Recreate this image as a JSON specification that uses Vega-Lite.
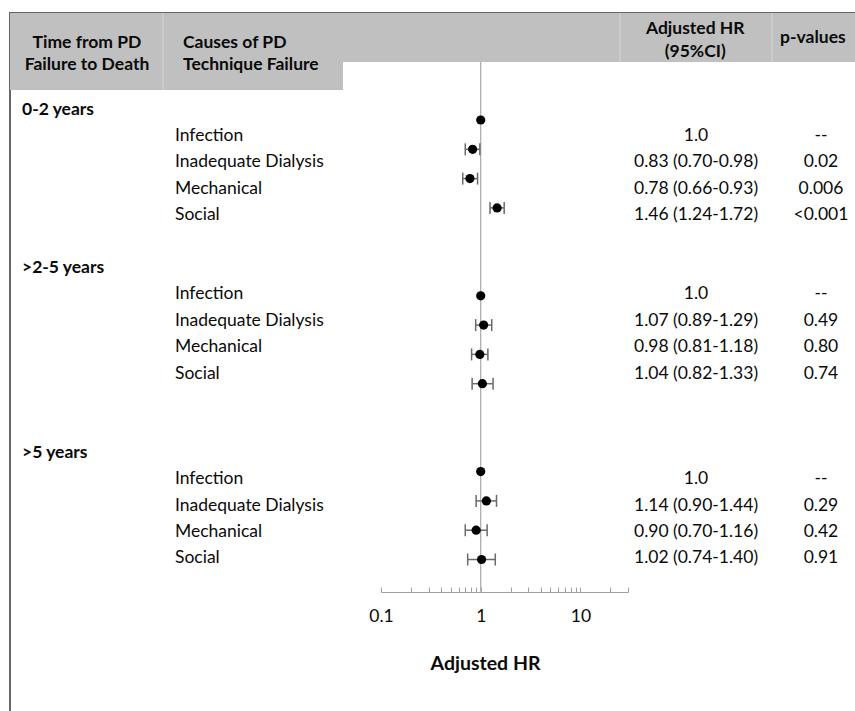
{
  "$schema": "https://vega.github.io/schema/vega-lite/v6.json",
  "width": 846,
  "height": 700,
  "padding": {"left": 10, "top": 13, "right": 0, "bottom": 0},
  "autosize": {"type": "none"},
  "background": "white",
  "config": {
    "view": {"stroke": "#666666", "strokeWidth": 2},
    "font": "Lato",
    "text": {"font": "Lato", "fontSize": 17.5, "color": "#0a0a0a"}
  },
  "datasets": {
    "groups": [
      {"group": "0-2 years", "row": 0},
      {"group": ">2-5 years", "row": 6},
      {"group": ">5 years", "row": 13}
    ],
    "rows": [
      {"group": "0-2 years", "cause": "Infection", "row": 1, "slot": 0, "hr": 1.0, "lo": null, "hi": null, "est": "1.0", "p": "--"},
      {"group": "0-2 years", "cause": "Inadequate Dialysis", "row": 2, "slot": 1, "hr": 0.83, "lo": 0.70, "hi": 0.98, "est": "0.83 (0.70-0.98)", "p": "0.02"},
      {"group": "0-2 years", "cause": "Mechanical", "row": 3, "slot": 2, "hr": 0.78, "lo": 0.66, "hi": 0.93, "est": "0.78 (0.66-0.93)", "p": "0.006"},
      {"group": "0-2 years", "cause": "Social", "row": 4, "slot": 3, "hr": 1.46, "lo": 1.24, "hi": 1.72, "est": "1.46 (1.24-1.72)", "p": "<0.001"},
      {"group": ">2-5 years", "cause": "Infection", "row": 7, "slot": 6, "hr": 1.0, "lo": null, "hi": null, "est": "1.0", "p": "--"},
      {"group": ">2-5 years", "cause": "Inadequate Dialysis", "row": 8, "slot": 7, "hr": 1.07, "lo": 0.89, "hi": 1.29, "est": "1.07 (0.89-1.29)", "p": "0.49"},
      {"group": ">2-5 years", "cause": "Mechanical", "row": 9, "slot": 8, "hr": 0.98, "lo": 0.81, "hi": 1.18, "est": "0.98 (0.81-1.18)", "p": "0.80"},
      {"group": ">2-5 years", "cause": "Social", "row": 10, "slot": 9, "hr": 1.04, "lo": 0.82, "hi": 1.33, "est": "1.04 (0.82-1.33)", "p": "0.74"},
      {"group": ">5 years", "cause": "Infection", "row": 14, "slot": 12, "hr": 1.0, "lo": null, "hi": null, "est": "1.0", "p": "--"},
      {"group": ">5 years", "cause": "Inadequate Dialysis", "row": 15, "slot": 13, "hr": 1.14, "lo": 0.90, "hi": 1.44, "est": "1.14 (0.90-1.44)", "p": "0.29"},
      {"group": ">5 years", "cause": "Mechanical", "row": 16, "slot": 14, "hr": 0.90, "lo": 0.70, "hi": 1.16, "est": "0.90 (0.70-1.16)", "p": "0.42"},
      {"group": ">5 years", "cause": "Social", "row": 17, "slot": 15, "hr": 1.02, "lo": 0.74, "hi": 1.40, "est": "1.02 (0.74-1.40)", "p": "0.91"}
    ]
  },
  "layer": [
    {
      "data": {"values": [{}]},
      "mark": {"type": "rect", "fill": "#c0c0c0"},
      "encoding": {
        "x": {"datum": 0, "type": "quantitative", "scale": {"domain": [0, 100], "nice": false, "zero": false}, "axis": null},
        "x2": {"datum": 39.36},
        "y": {"datum": -3.662, "type": "quantitative", "scale": {"domain": [-3.662, 22.853], "reverse": true, "nice": false, "zero": false}, "axis": null},
        "y2": {"datum": -0.745}
      }
    },
    {
      "data": {"values": [{}]},
      "mark": {"type": "rect", "fill": "#c0c0c0"},
      "encoding": {
        "x": {"datum": 39.36, "type": "quantitative", "scale": {"domain": [0, 100], "nice": false, "zero": false}, "axis": null},
        "x2": {"datum": 100},
        "y": {"datum": -3.662, "type": "quantitative", "scale": {"domain": [-3.662, 22.853], "reverse": true, "nice": false, "zero": false}, "axis": null},
        "y2": {"datum": -1.806}
      }
    },
    {
      "data": {"values": [{}]},
      "mark": {"type": "rule", "color": "#d6d6d6", "strokeWidth": 1},
      "encoding": {
        "x": {"datum": 18.09, "type": "quantitative", "scale": {"domain": [0, 100], "nice": false, "zero": false}, "axis": null},
        "y": {"datum": -3.662, "type": "quantitative", "scale": {"domain": [-3.662, 22.853], "reverse": true, "nice": false, "zero": false}, "axis": null},
        "y2": {"datum": -0.745}
      }
    },
    {
      "data": {"values": [{}]},
      "mark": {"type": "rule", "color": "#d6d6d6", "strokeWidth": 1},
      "encoding": {
        "x": {"datum": 72.1, "type": "quantitative", "scale": {"domain": [0, 100], "nice": false, "zero": false}, "axis": null},
        "y": {"datum": -3.662, "type": "quantitative", "scale": {"domain": [-3.662, 22.853], "reverse": true, "nice": false, "zero": false}, "axis": null},
        "y2": {"datum": -1.806}
      }
    },
    {
      "data": {"values": [{}]},
      "mark": {"type": "rule", "color": "#d6d6d6", "strokeWidth": 1},
      "encoding": {
        "x": {"datum": 90.07, "type": "quantitative", "scale": {"domain": [0, 100], "nice": false, "zero": false}, "axis": null},
        "y": {"datum": -3.662, "type": "quantitative", "scale": {"domain": [-3.662, 22.853], "reverse": true, "nice": false, "zero": false}, "axis": null},
        "y2": {"datum": -1.806}
      }
    },
    {
      "data": {"values": [{}]},
      "mark": {"type": "text", "text": ["Time from PD", "Failure to Death"], "fontWeight": "bold", "align": "center", "baseline": "middle", "lineHeight": 22},
      "encoding": {
        "x": {"datum": 9.1, "type": "quantitative", "scale": {"domain": [0, 100], "nice": false, "zero": false}, "axis": null},
        "y": {"datum": -2.525, "type": "quantitative", "scale": {"domain": [-3.662, 22.853], "reverse": true, "nice": false, "zero": false}, "axis": null}
      }
    },
    {
      "data": {"values": [{}]},
      "mark": {"type": "text", "text": ["Causes of PD", "Technique Failure"], "fontWeight": "bold", "align": "left", "baseline": "middle", "lineHeight": 22},
      "encoding": {
        "x": {"datum": 20.45, "type": "quantitative", "scale": {"domain": [0, 100], "nice": false, "zero": false}, "axis": null},
        "y": {"datum": -2.525, "type": "quantitative", "scale": {"domain": [-3.662, 22.853], "reverse": true, "nice": false, "zero": false}, "axis": null}
      }
    },
    {
      "data": {"values": [{}]},
      "mark": {"type": "text", "text": ["Adjusted HR", "(95%CI)"], "fontWeight": "bold", "align": "center", "baseline": "middle", "lineHeight": 23},
      "encoding": {
        "x": {"datum": 81.0, "type": "quantitative", "scale": {"domain": [0, 100], "nice": false, "zero": false}, "axis": null},
        "y": {"datum": -3.05, "type": "quantitative", "scale": {"domain": [-3.662, 22.853], "reverse": true, "nice": false, "zero": false}, "axis": null}
      }
    },
    {
      "data": {"values": [{}]},
      "mark": {"type": "text", "text": "p-values", "fontWeight": "bold", "align": "center", "baseline": "middle"},
      "encoding": {
        "x": {"datum": 94.9, "type": "quantitative", "scale": {"domain": [0, 100], "nice": false, "zero": false}, "axis": null},
        "y": {"datum": -2.715, "type": "quantitative", "scale": {"domain": [-3.662, 22.853], "reverse": true, "nice": false, "zero": false}, "axis": null}
      }
    },
    {
      "data": {"name": "groups"},
      "mark": {"type": "text", "fontWeight": "bold", "align": "left", "baseline": "middle"},
      "encoding": {
        "x": {"datum": 1.42, "type": "quantitative", "scale": {"domain": [0, 100], "nice": false, "zero": false}, "axis": null},
        "y": {"field": "row", "type": "quantitative", "scale": {"domain": [-3.662, 22.853], "reverse": true, "nice": false, "zero": false}, "axis": null},
        "text": {"field": "group"}
      }
    },
    {
      "data": {"name": "rows"},
      "mark": {"type": "text", "align": "left", "baseline": "middle"},
      "encoding": {
        "x": {"datum": 19.5, "type": "quantitative", "scale": {"domain": [0, 100], "nice": false, "zero": false}, "axis": null},
        "y": {"field": "row", "type": "quantitative", "scale": {"domain": [-3.662, 22.853], "reverse": true, "nice": false, "zero": false}, "axis": null},
        "text": {"field": "cause"}
      }
    },
    {
      "data": {"name": "rows"},
      "mark": {"type": "text", "align": "center", "baseline": "middle"},
      "encoding": {
        "x": {"datum": 81.09, "type": "quantitative", "scale": {"domain": [0, 100], "nice": false, "zero": false}, "axis": null},
        "y": {"field": "row", "type": "quantitative", "scale": {"domain": [-3.662, 22.853], "reverse": true, "nice": false, "zero": false}, "axis": null},
        "text": {"field": "est"}
      }
    },
    {
      "data": {"name": "rows"},
      "mark": {"type": "text", "align": "center", "baseline": "middle"},
      "encoding": {
        "x": {"datum": 95.86, "type": "quantitative", "scale": {"domain": [0, 100], "nice": false, "zero": false}, "axis": null},
        "y": {"field": "row", "type": "quantitative", "scale": {"domain": [-3.662, 22.853], "reverse": true, "nice": false, "zero": false}, "axis": null},
        "text": {"field": "p"}
      }
    },
    {
      "data": {"values": [{}]},
      "mark": {"type": "rule", "color": "#a8a8a8", "strokeWidth": 1.2},
      "encoding": {
        "x": {"datum": 1, "type": "quantitative", "scale": {"type": "log", "domain": [0.1, 30], "range": [371, 618], "nice": false}, "axis": null},
        "y": {"datum": -1.98, "type": "quantitative", "scale": {"domain": [-3.652, 20.239], "reverse": true, "nice": false, "zero": false}, "axis": null},
        "y2": {"datum": 16.1}
      }
    },
    {
      "data": {"name": "rows"},
      "transform": [{"filter": "datum.lo != null"}],
      "mark": {"type": "rule", "color": "#6a6a6a", "strokeWidth": 1.5},
      "encoding": {
        "x": {"field": "lo", "type": "quantitative", "scale": {"type": "log", "domain": [0.1, 30], "range": [371, 618], "nice": false}, "axis": null},
        "x2": {"field": "hi"},
        "y": {"field": "slot", "type": "quantitative", "scale": {"domain": [-3.652, 20.239], "reverse": true, "nice": false, "zero": false}, "axis": null}
      }
    },
    {
      "data": {"name": "rows"},
      "transform": [{"filter": "datum.lo != null"}],
      "mark": {"type": "tick", "orient": "vertical", "color": "#6a6a6a", "size": 12, "thickness": 1.5, "opacity": 1},
      "encoding": {
        "x": {"field": "lo", "type": "quantitative", "scale": {"type": "log", "domain": [0.1, 30], "range": [371, 618], "nice": false}, "axis": null},
        "y": {"field": "slot", "type": "quantitative", "scale": {"domain": [-3.652, 20.239], "reverse": true, "nice": false, "zero": false}, "axis": null}
      }
    },
    {
      "data": {"name": "rows"},
      "transform": [{"filter": "datum.lo != null"}],
      "mark": {"type": "tick", "orient": "vertical", "color": "#6a6a6a", "size": 12, "thickness": 1.5, "opacity": 1},
      "encoding": {
        "x": {"field": "hi", "type": "quantitative", "scale": {"type": "log", "domain": [0.1, 30], "range": [371, 618], "nice": false}, "axis": null},
        "y": {"field": "slot", "type": "quantitative", "scale": {"domain": [-3.652, 20.239], "reverse": true, "nice": false, "zero": false}, "axis": null}
      }
    },
    {
      "data": {"name": "rows"},
      "mark": {"type": "circle", "color": "black", "size": 85, "opacity": 1},
      "encoding": {
        "x": {
          "field": "hr", "type": "quantitative",
          "scale": {"type": "log", "domain": [0.1, 30], "range": [371, 618], "nice": false},
          "axis": {
            "title": "Adjusted HR",
            "values": [0.1, 0.2, 0.3, 0.4, 0.5, 0.6, 0.7, 0.8, 0.9, 1, 2, 3, 4, 5, 6, 7, 8, 9, 10, 20, 30],
            "labelExpr": "datum.value == 0.1 ? '0.1' : (datum.value == 1 ? '1' : (datum.value == 10 ? '10' : ''))",
            "offset": -121,
            "grid": false,
            "domainColor": "#a0a0a0",
            "domainWidth": 1.2,
            "tickColor": "#a0a0a0",
            "tickSize": -5,
            "tickWidth": 1,
            "labelPadding": 20,
            "labelFont": "Lato",
            "labelFontSize": 17.5,
            "labelColor": "#0a0a0a",
            "labelFlush": false,
            "labelOverlap": false,
            "titleFont": "Lato",
            "titleFontSize": 19.5,
            "titleFontWeight": "bold",
            "titleColor": "#0a0a0a",
            "titleX": 475,
            "titleY": 71,
            "titleBaseline": "middle",
            "titleAlign": "center"
          }
        },
        "y": {"field": "slot", "type": "quantitative", "scale": {"domain": [-3.652, 20.239], "reverse": true, "nice": false, "zero": false}, "axis": null}
      }
    }
  ],
  "resolve": {"scale": {"x": "independent", "y": "independent"}, "axis": {"x": "independent", "y": "independent"}}
}
